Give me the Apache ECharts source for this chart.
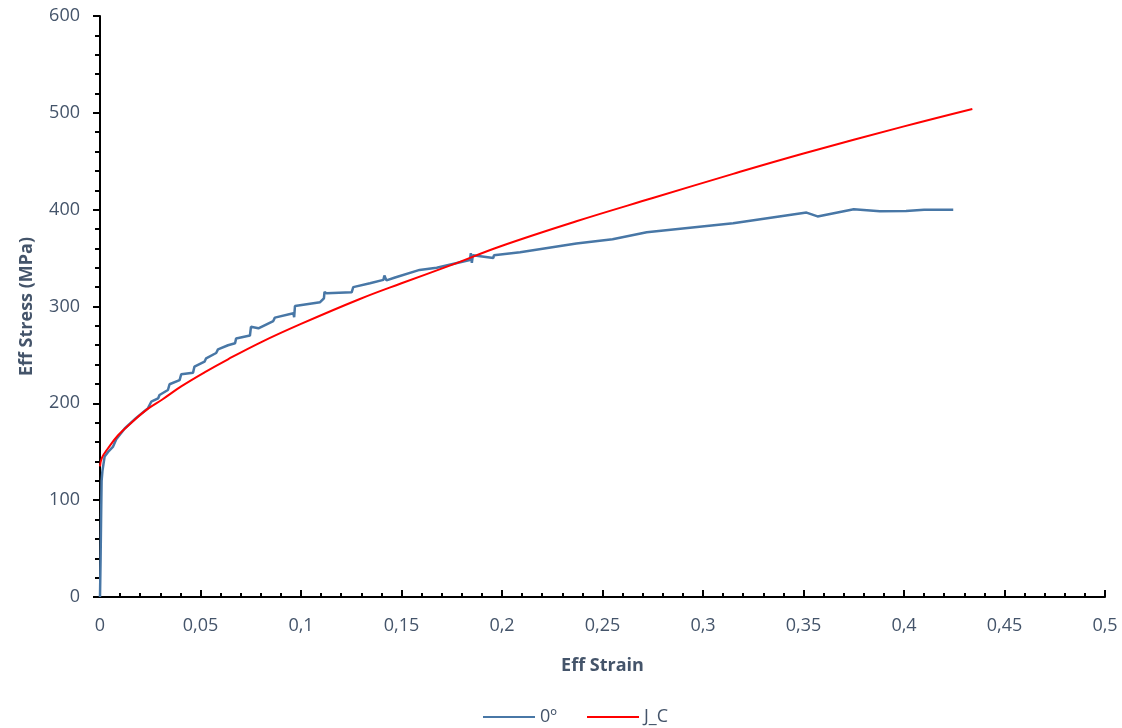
<!DOCTYPE html>
<html>
<head>
<meta charset="utf-8">
<script src="https://cdn.jsdelivr.net/npm/echarts@6/dist/echarts.min.js"></script>
<style>
html,body{margin:0;padding:0;background:#fff;}
#chart{width:1122px;height:728px;}
</style>
</head>
<body>
<div id="chart"></div>
<script>
// Series "0º" (experimental): strain, stress
const blueStrain = [0, 0.0003, 0.0006, 0.0008, 0.0012, 0.0023, 0.0045, 0.0064, 0.0081, 0.0123, 0.018, 0.0239, 0.0255, 0.0289, 0.0296, 0.0338, 0.0346, 0.0396, 0.0404, 0.0463, 0.047, 0.052, 0.0528, 0.0578, 0.0587, 0.0637, 0.0672, 0.0677, 0.0746, 0.0751, 0.0788, 0.0862, 0.087, 0.0962, 0.0966, 0.097, 0.1095, 0.1114, 0.1117, 0.1127, 0.1252, 0.126, 0.1343, 0.141, 0.1415, 0.1425, 0.1468, 0.159, 0.1675, 0.184, 0.1845, 0.185, 0.1855, 0.1957, 0.196, 0.1965, 0.209, 0.237, 0.2375, 0.255, 0.272, 0.315, 0.3515, 0.357, 0.375, 0.388, 0.401, 0.41, 0.4245];
const blueStress = [0, 40, 90, 120, 130, 145, 151, 155, 163, 174, 185, 195, 201.7, 205, 208.6, 213.8, 219.7, 224, 230, 231.7, 238, 243, 246.5, 252, 255.7, 260, 262, 267, 270, 279, 277.5, 285, 288.5, 293, 289, 300.5, 304.4, 308.5, 315, 313.6, 314.7, 320, 324, 327.5, 332, 327, 330, 337.8, 340, 348, 355, 345, 353, 350, 353, 351, 356, 365, 366, 369.5, 376.6, 386, 397, 393, 400.5, 398.4, 398.7, 399.8, 400];
// Series "J_C" (Johnson-Cook fit): strain, stress
const redStrain = [0, 0.001, 0.004, 0.009, 0.0156, 0.0239, 0.031, 0.0404, 0.052, 0.0637, 0.08, 0.1, 0.129, 0.15, 0.175, 0.199, 0.237, 0.275, 0.315, 0.35, 0.4, 0.434];
const redStress = [135, 144, 153.6, 167, 180, 194.5, 204, 217.5, 232, 245.5, 263, 282, 307.5, 324, 343, 362, 388, 412, 437, 458, 486, 504];

const seriesNames = ['0º', 'J_C'];
const xTitle = 'Eff Strain';
const yTitle = 'Eff Stress (MPa)';

const zip = (a, b) => a.map((v, i) => [v, b[i]]);
const txt = '#44546A';
const fontFam = '"Open Sans", "Noto Sans", sans-serif';

const chart = echarts.init(document.getElementById('chart'));
chart.setOption({
  animation: false,
  backgroundColor: '#fff',
  grid: {left: 100, right: 17, top: 16, bottom: 131, containLabel: false},
  legend: {
    data: seriesNames.map(n => ({name: n, icon: 'rect'})),
    top: 703,
    left: 478,
    itemWidth: 52,
    itemHeight: 2,
    itemGap: 30,
    textStyle: {color: txt, fontSize: 18, fontFamily: fontFam}
  },
  xAxis: {
    type: 'value', min: 0, max: 0.5, interval: 0.05,
    name: xTitle, nameLocation: 'middle', nameGap: 60,
    nameTextStyle: {color: txt, fontSize: 18, fontWeight: 'bold', fontFamily: fontFam},
    axisLine: {show: true, onZero: false, lineStyle: {color: '#000', width: 2}},
    axisTick: {show: true, inside: true, length: 7, lineStyle: {color: '#000', width: 2}},
    minorTick: {show: true, splitNumber: 5, length: 4, lineStyle: {color: '#000', width: 2}},
    splitLine: {show: false},
    axisLabel: {color: txt, fontSize: 18, fontFamily: fontFam, margin: 20,
      formatter: v => String(Math.round(v * 100) / 100).replace('.', ',')}
  },
  yAxis: {
    type: 'value', min: 0, max: 600, interval: 100,
    name: yTitle, nameLocation: 'middle', nameGap: 64, nameRotate: 90,
    nameTextStyle: {color: txt, fontSize: 18, fontWeight: 'bold', fontFamily: fontFam},
    axisLine: {show: true, lineStyle: {color: '#000', width: 2}},
    axisTick: {show: true, inside: false, length: 7, lineStyle: {color: '#000', width: 2}},
    minorTick: {show: true, splitNumber: 5, length: 5, lineStyle: {color: '#000', width: 2}},
    splitLine: {show: false},
    axisLabel: {color: txt, fontSize: 18, fontFamily: fontFam, margin: 20}
  },
  series: [
    {
      name: seriesNames[0], type: 'line', data: zip(blueStrain, blueStress),
      showSymbol: false, symbol: 'none',
      lineStyle: {color: '#4877A6', width: 2.5},
      itemStyle: {color: '#4877A6'}, z: 2
    },
    {
      name: seriesNames[1], type: 'line', data: zip(redStrain, redStress),
      showSymbol: false, symbol: 'none', smooth: 0.4,
      lineStyle: {color: '#FF0000', width: 2},
      itemStyle: {color: '#FF0000'}, z: 3
    }
  ]
});
</script>
</body>
</html>
